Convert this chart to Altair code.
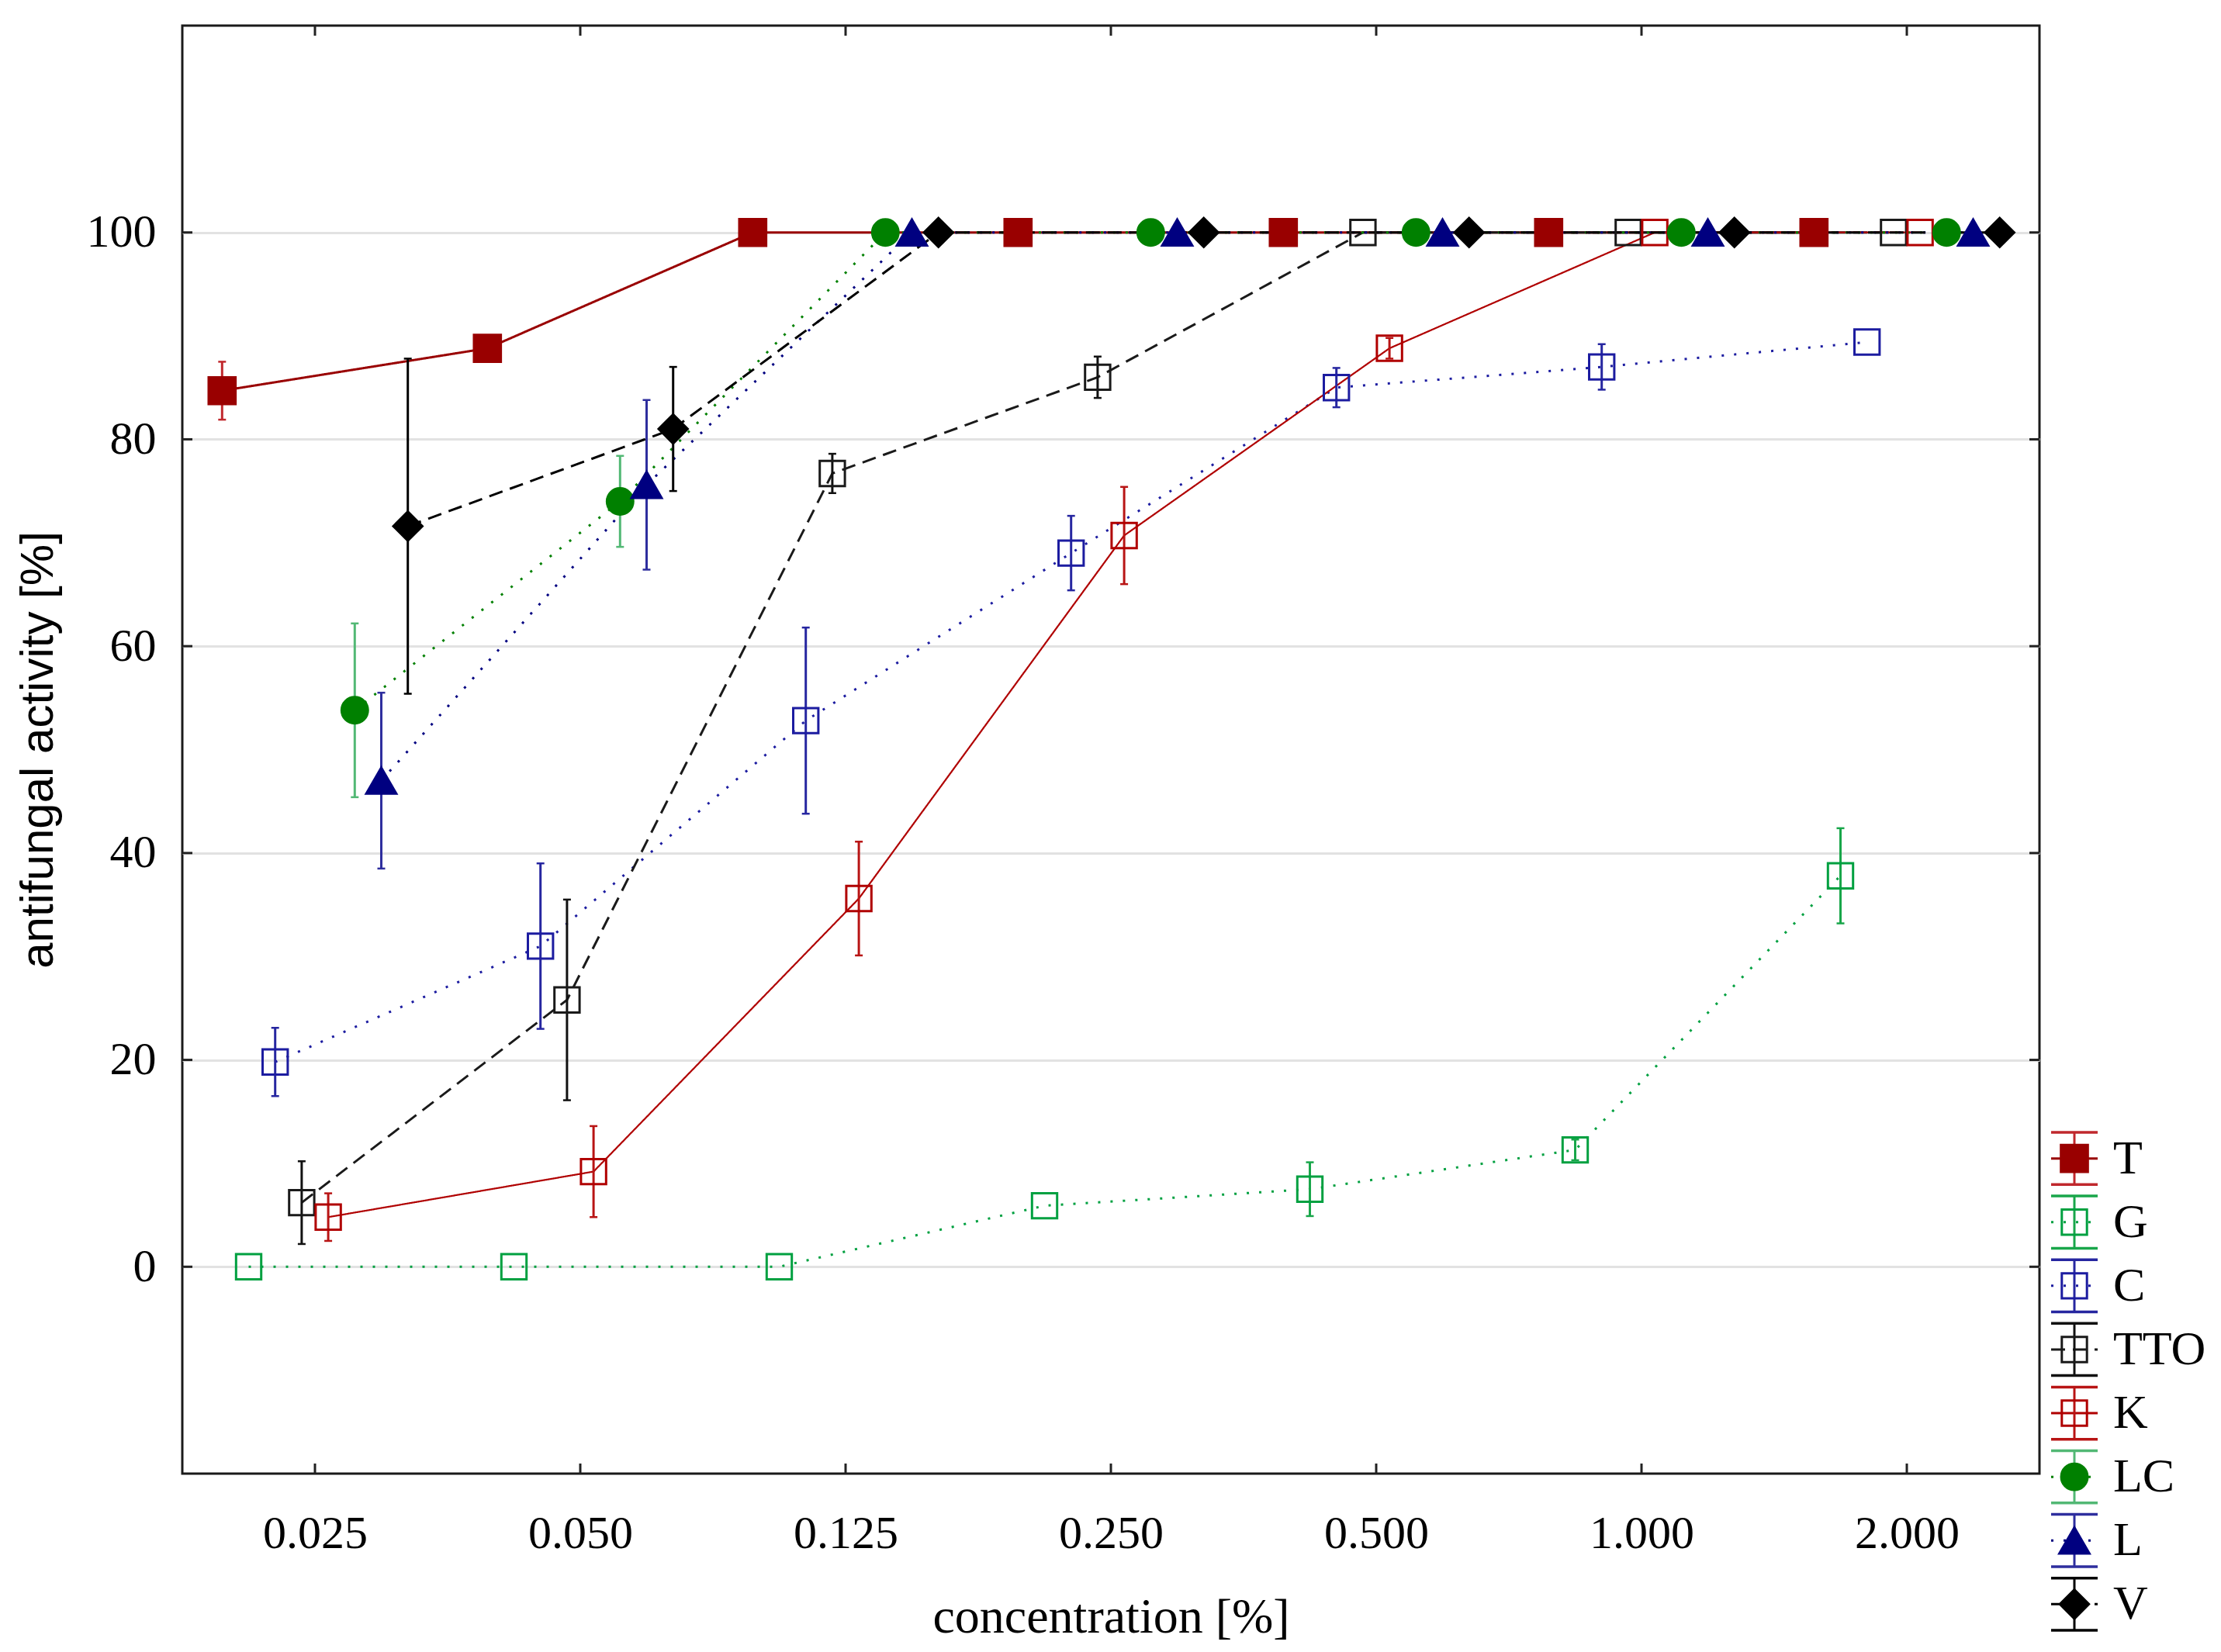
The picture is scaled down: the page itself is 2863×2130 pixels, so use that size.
import altair as alt
import pandas as pd

# ---------------- data ----------------
conc_labels = ["0.025", "0.050", "0.125", "0.250", "0.500", "1.000", "2.000"]
series = ["T", "G", "C", "TTO", "K", "LC", "L", "V"]

T_mean = [84.7, 88.8, 100, 100, 100, 100, 100]
T_err = [2.8, 0, 0, 0, 0, 0, 0]
G_mean = [0, 0, 0, 5.9, 7.5, 11.3, 37.8]
G_err = [0, 0, 0, 0, 2.6, 1.0, 4.6]
C_mean = [19.8, 31.0, 52.8, 69.0, 85.0, 87.0, 89.4]
C_err = [3.3, 8.0, 9.0, 3.6, 1.9, 2.2, 0]
TTO_mean = [6.2, 25.8, 76.7, 86.0, 100, 100, 100]
TTO_err = [4.0, 9.7, 1.9, 2.0, 0, 0, 0]
K_mean = [4.8, 9.2, 35.6, 70.7, 88.8, 100, 100]
K_err = [2.3, 4.4, 5.5, 4.7, 1.0, 0, 0]
LC_mean = [53.8, 74.0, 100, 100, 100, 100, 100]
LC_err = [8.4, 4.4, 0, 0, 0, 0, 0]
L_mean = [47.0, 75.6, 100, 100, 100, 100, 100]
L_err = [8.5, 8.2, 0, 0, 0, 0, 0]
V_mean = [71.6, 81.0, 100, 100, 100, 100, 100]
V_err = [16.2, 6.0, 0, 0, 0, 0, 0]

y_ticks = [0, 20, 40, 60, 80, 100]

means = [T_mean, G_mean, C_mean, TTO_mean, K_mean, LC_mean, L_mean, V_mean]
errs = [T_err, G_err, C_err, TTO_err, K_err, LC_err, L_err, V_err]

# ---------------- styles ----------------
line_colors = ["#990000", "#00a040", "#1c1ca0", "#1a1a1a", "#b00000", "#008000", "#000080", "#000000"]
err_colors = ["#c0282d", "#19a64a", "#2626a0", "#111111", "#b81414", "#52b874", "#2e2e9e", "#000000"]
filled = [True, False, False, False, False, True, True, True]
shapes = ["square", "square", "square", "square", "square", "circle", "triangle-up", "diamond"]
sizes = [1200, 1050, 1050, 1050, 1050, 1150, 1500, 1400]
dashes = [[1, 0], [3, 13], [3, 13], [18, 10], [1, 0], [3, 13], [3, 13], [18, 10]]
line_widths = [3, 3, 3, 3, 2.2, 3, 3, 3]

rows = []
for si, s in enumerate(series):
    for ci, c in enumerate(conc_labels):
        rows.append({"series": s, "si": si, "ci": ci, "value": means[si][ci], "err": errs[si][ci]})
df = pd.DataFrame(rows)

W, H = 2394, 1867

xscale = alt.Scale(domain=[-0.5, len(conc_labels) - 0.5], nice=False, zero=False)
yscale = alt.Scale(domain=[-20, 120], nice=False, zero=False)
label_expr = "[" + ",".join("'%s'" % c for c in conc_labels) + "][datum.value]"

xaxis = alt.Axis(values=list(range(len(conc_labels))), labelExpr=label_expr,
                 title="concentration [%]", grid=False, ticks=False, domain=False,
                 labelFont="Liberation Serif", labelFontSize=60, labelColor="#000000",
                 labelPadding=48, labelFlush=False, labelOverlap=False,
                 titleFont="Liberation Serif", titleFontSize=64, titleFontWeight="normal",
                 titleColor="#000000", titlePadding=46)
yaxis = alt.Axis(values=y_ticks, title="antifungal activity [%]", grid=True,
                 gridColor="#e2e2e2", gridWidth=3, ticks=False, domain=False,
                 labelFont="Liberation Serif", labelFontSize=60, labelColor="#000000",
                 labelPadding=34, titleFont="Liberation Sans", titleFontSize=60,
                 titleFontWeight="normal", titleColor="#000000", titlePadding=31)

base = alt.Chart(df).transform_calculate(
    xpos="datum.ci + (datum.si - 3.5) * 0.1",
    lo="datum.value - datum.err",
    hi="datum.value + datum.err",
)

X = alt.X("xpos:Q", scale=xscale, axis=xaxis)

line_layers, err_layers, point_layers = [], [], []
for i, s in enumerate(series):
    b = base.transform_filter(alt.datum.series == s)
    line_layers.append(
        b.mark_line(color=line_colors[i], strokeWidth=line_widths[i], strokeDash=dashes[i])
        .encode(x=X, y=alt.Y("value:Q", scale=yscale, axis=yaxis), order="ci:Q")
    )
    be = b.transform_filter("datum.err > 0")
    err_layers.append(
        be.mark_rule(color=err_colors[i], strokeWidth=3)
        .encode(x=X, y=alt.Y("lo:Q", scale=yscale, axis=yaxis), y2="hi:Q")
    )
    err_layers.append(
        be.mark_tick(orient="horizontal", size=10, thickness=2.5, color=err_colors[i], opacity=1)
        .encode(x=X, y=alt.Y("lo:Q", scale=yscale, axis=yaxis))
    )
    err_layers.append(
        be.mark_tick(orient="horizontal", size=10, thickness=2.5, color=err_colors[i], opacity=1)
        .encode(x=X, y=alt.Y("hi:Q", scale=yscale, axis=yaxis))
    )
    if filled[i]:
        pm = b.mark_point(shape=shapes[i], size=sizes[i], filled=True, color=line_colors[i],
                          stroke=line_colors[i], strokeWidth=3, opacity=1)
    else:
        pm = b.mark_point(shape=shapes[i], size=sizes[i], filled=False, color=line_colors[i],
                          strokeWidth=3, opacity=1)
    point_layers.append(pm.encode(x=X, y=alt.Y("value:Q", scale=yscale, axis=yaxis)))

# inward ticks on the frame
ytick_df = pd.DataFrame({"value": y_ticks})
xtick_df = pd.DataFrame({"xpos": list(range(len(conc_labels)))})
tick_color = "#222222"
tick_layers = [
    alt.Chart(ytick_df).mark_rule(color=tick_color, strokeWidth=3).encode(
        y=alt.Y("value:Q", scale=yscale, axis=yaxis), x=alt.value(0), x2=alt.value(13)),
    alt.Chart(ytick_df).mark_rule(color=tick_color, strokeWidth=3).encode(
        y=alt.Y("value:Q", scale=yscale, axis=yaxis), x=alt.value(W - 13), x2=alt.value(W)),
    alt.Chart(xtick_df).mark_rule(color=tick_color, strokeWidth=3).encode(
        x=X, y=alt.value(H - 13), y2=alt.value(H)),
    alt.Chart(xtick_df).mark_rule(color=tick_color, strokeWidth=3).encode(
        x=X, y=alt.value(0), y2=alt.value(13)),
]

main = alt.layer(*(tick_layers + line_layers + err_layers + point_layers)).properties(
    width=W, height=H,
    view=alt.ViewBackground(stroke="#1a1a1a", strokeWidth=3),
)

# ---------------- custom legend (marker with error bar glyph) ----------------
leg_df = pd.DataFrame({"series": series, "idx": list(range(len(series)))})
leg_base = alt.Chart(leg_df).transform_calculate(lo="datum.idx - 0.41", hi="datum.idx + 0.41")
ly = alt.Scale(domain=[-17.79, 7.30], reverse=True, nice=False, zero=False)
LY = lambda f: alt.Y(f, scale=ly, axis=None)

cx, x0, x1 = 42, 12, 72
leg_layers = []
for i, s in enumerate(series):
    b = leg_base.transform_filter(alt.datum.series == s)
    leg_layers.append(b.mark_rule(color=line_colors[i], strokeWidth=3, strokeDash=dashes[i]).encode(
        y=LY("idx:Q"), x=alt.value(x0), x2=alt.value(x1)))
    leg_layers.append(b.mark_rule(color=err_colors[i], strokeWidth=3).encode(
        y=LY("lo:Q"), y2="hi:Q", x=alt.value(cx)))
    leg_layers.append(b.mark_rule(color=err_colors[i], strokeWidth=3.5).encode(
        y=LY("lo:Q"), x=alt.value(x0), x2=alt.value(x1)))
    leg_layers.append(b.mark_rule(color=err_colors[i], strokeWidth=3.5).encode(
        y=LY("hi:Q"), x=alt.value(x0), x2=alt.value(x1)))
    if filled[i]:
        pm = b.mark_point(shape=shapes[i], size=sizes[i], filled=True, color=line_colors[i],
                          stroke=line_colors[i], strokeWidth=3, opacity=1)
    else:
        pm = b.mark_point(shape=shapes[i], size=sizes[i], filled=False, color=line_colors[i],
                          strokeWidth=3, opacity=1)
    leg_layers.append(pm.encode(y=LY("idx:Q"), x=alt.value(cx)))

leg_layers.append(
    leg_base.mark_text(font="Liberation Serif", fontSize=62, align="left", baseline="middle",
                       color="#000000")
    .encode(y=LY("idx:Q"), x=alt.value(92), text="series:N")
)

legend = alt.layer(*leg_layers).properties(
    width=200, height=2060,
    view=alt.ViewBackground(strokeOpacity=0),
)

chart = alt.hconcat(main, legend, spacing=0).resolve_scale(
    x="independent", y="independent"
).properties(
    padding={"left": 9, "top": 22, "right": 0, "bottom": 0}
).configure(background="#ffffff")

chart.save("out.html", embed_options={"renderer": "svg", "actions": False})
